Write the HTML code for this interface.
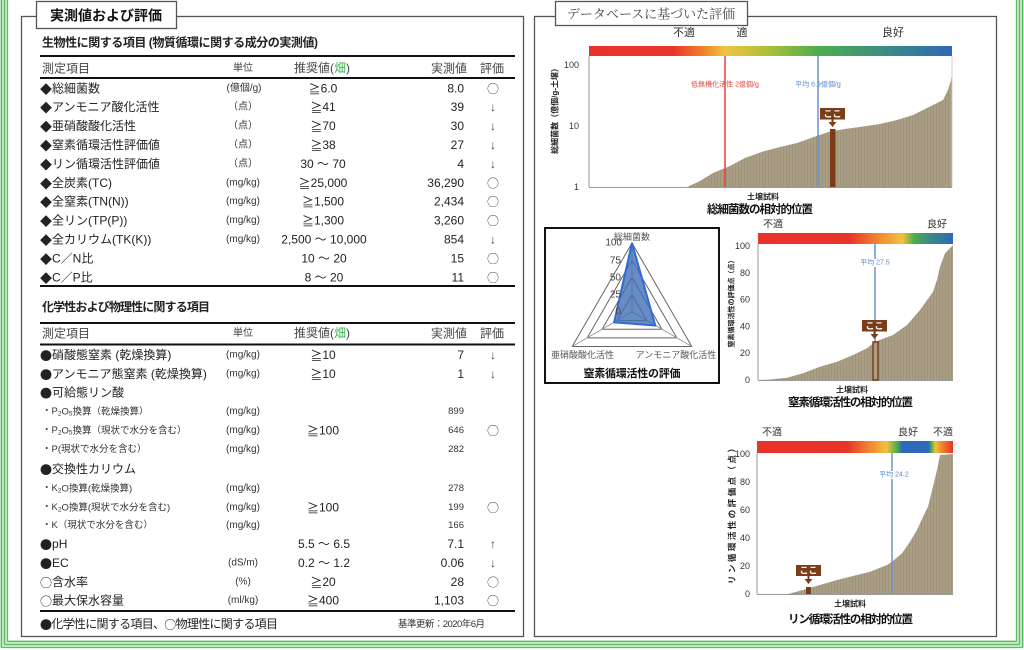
<!DOCTYPE html>
<html><head><meta charset="utf-8">
<style>
html,body{margin:0;padding:0;background:#fff;}
svg{display:block;}
text{font-family:"Liberation Sans","Noto Sans CJK JP",sans-serif;}
.j{font-family:"Noto Sans CJK JP",sans-serif;}
</style></head>
<body>
<svg width="1024" height="650" viewBox="0 0 1024 650" xmlns="http://www.w3.org/2000/svg">
<defs>
<linearGradient id="g1" x1="0" x2="1" y1="0" y2="0">
<stop offset="0" stop-color="#e8332a"/><stop offset="0.23" stop-color="#e8352a"/><stop offset="0.31" stop-color="#ef7e2c"/><stop offset="0.375" stop-color="#f1c342"/><stop offset="0.5" stop-color="#a7bf3a"/><stop offset="0.63" stop-color="#4cae4c"/><stop offset="0.8" stop-color="#3d8f7e"/><stop offset="1" stop-color="#2e68b6"/>
</linearGradient>
<linearGradient id="g2" x1="0" x2="1" y1="0" y2="0">
<stop offset="0" stop-color="#e8332a"/><stop offset="0.47" stop-color="#e8352a"/><stop offset="0.62" stop-color="#f08a30"/><stop offset="0.74" stop-color="#f2c040"/><stop offset="0.8" stop-color="#4cae4c"/><stop offset="0.88" stop-color="#3a8a86"/><stop offset="1" stop-color="#2e68b6"/>
</linearGradient>
<linearGradient id="g3" x1="0" x2="1" y1="0" y2="0">
<stop offset="0" stop-color="#e8332a"/><stop offset="0.46" stop-color="#e8352a"/><stop offset="0.58" stop-color="#f08a30"/><stop offset="0.66" stop-color="#f2c040"/><stop offset="0.715" stop-color="#4cae4c"/><stop offset="0.74" stop-color="#2e68b6"/><stop offset="0.875" stop-color="#2e68b6"/><stop offset="0.89" stop-color="#4cae4c"/><stop offset="0.91" stop-color="#f2c040"/><stop offset="0.94" stop-color="#f08a30"/><stop offset="1" stop-color="#e8332a"/>
</linearGradient>
<pattern id="bars" width="3" height="10" patternUnits="userSpaceOnUse">
<rect width="3" height="10" fill="#aa9e85"/><rect width="1" height="10" fill="#9f927a"/>
</pattern>
</defs>

<!-- green border -->
<rect x="0" y="0" width="8" height="648" fill="#cfeccf"/>
<rect x="1016" y="0" width="8" height="648" fill="#cfeccf"/>
<rect x="0" y="640" width="1024" height="8" fill="#cfeccf"/>
<g stroke="#5dbb63" stroke-width="1.3" fill="none">
<line x1="1.5" y1="0" x2="1.5" y2="647.5"/><line x1="4.5" y1="0" x2="4.5" y2="644.5"/><line x1="7.5" y1="0" x2="7.5" y2="641.5"/>
<line x1="1016.5" y1="0" x2="1016.5" y2="641.5"/><line x1="1019.5" y1="0" x2="1019.5" y2="644.5"/><line x1="1022.5" y1="0" x2="1022.5" y2="647.5"/>
<line x1="7.5" y1="641.5" x2="1016.5" y2="641.5"/><line x1="4.5" y1="644.5" x2="1019.5" y2="644.5"/><line x1="1.5" y1="647.5" x2="1022.5" y2="647.5"/>
</g>

<!-- left panel -->
<rect x="21.5" y="16.5" width="502" height="620" fill="#fff" stroke="#555" stroke-width="1.3"/>
<rect x="36.5" y="1.5" width="140" height="27" fill="#fff" stroke="#555" stroke-width="1.3"/>
<text x="106" y="15.5" font-size="14" font-weight="bold" text-anchor="middle" dominant-baseline="central" fill="#111">実測値および評価</text>

<g dominant-baseline="central" fill="#222">
<text x="42" y="42.5" font-size="12" font-weight="bold" textLength="276">生物性に関する項目 (物質循環に関する成分の実測値)</text>
<line x1="40" y1="56" x2="515" y2="56" stroke="#111" stroke-width="2"/>
<text x="42" y="68.5" font-size="12" fill="#444">測定項目</text>
<text x="243" y="68.5" font-size="10" text-anchor="middle" fill="#444">単位</text>
<text x="322" y="68" font-size="12" text-anchor="middle" fill="#444">推奨値(<tspan fill="#3cb44b">畑</tspan>)</text>
<text x="449" y="68.5" font-size="12" text-anchor="middle" fill="#444">実測値</text>
<text x="492" y="68.5" font-size="12" text-anchor="middle" fill="#444">評価</text>
<line x1="40" y1="78" x2="515" y2="78" stroke="#111" stroke-width="2"/>

<g font-size="12">
<text x="40" y="88.3"><tspan class="j">◆</tspan>総細菌数</text>
<text x="40" y="107.2"><tspan class="j">◆</tspan>アンモニア酸化活性</text>
<text x="40" y="126.1"><tspan class="j">◆</tspan>亜硝酸酸化活性</text>
<text x="40" y="145"><tspan class="j">◆</tspan>窒素循環活性評価値</text>
<text x="40" y="163.9"><tspan class="j">◆</tspan>リン循環活性評価値</text>
<text x="40" y="182.8"><tspan class="j">◆</tspan>全炭素(TC)</text>
<text x="40" y="201.7"><tspan class="j">◆</tspan>全窒素(TN(N))</text>
<text x="40" y="220.6"><tspan class="j">◆</tspan>全リン(TP(P))</text>
<text x="40" y="239.5"><tspan class="j">◆</tspan>全カリウム(TK(K))</text>
<text x="40" y="258.4"><tspan class="j">◆</tspan>C／N比</text>
<text x="40" y="277.3"><tspan class="j">◆</tspan>C／P比</text>
</g>
<g font-size="10" text-anchor="middle" fill="#333">
<text x="244" y="88.3">(億個/g)</text>
<text x="243" y="107.2">（点）</text>
<text x="243" y="126.1">（点）</text>
<text x="243" y="145">（点）</text>
<text x="243" y="163.9">（点）</text>
<text x="243" y="182.8">(mg/kg)</text>
<text x="243" y="201.7">(mg/kg)</text>
<text x="243" y="220.6">(mg/kg)</text>
<text x="243" y="239.5">(mg/kg)</text>
</g>
<g font-size="12" text-anchor="middle">
<text x="323" y="88.3"><tspan class="j">≧</tspan>6.0</text>
<text x="323" y="107.2"><tspan class="j">≧</tspan>41</text>
<text x="323" y="126.1"><tspan class="j">≧</tspan>70</text>
<text x="323" y="145"><tspan class="j">≧</tspan>38</text>
<text x="323" y="163.9">30 ～ 70</text>
<text x="323" y="182.8"><tspan class="j">≧</tspan>25,000</text>
<text x="323" y="201.7"><tspan class="j">≧</tspan>1,500</text>
<text x="323" y="220.6"><tspan class="j">≧</tspan>1,300</text>
<text x="324" y="239.5">2,500 ～ 10,000</text>
<text x="324" y="258.4">10 ～ 20</text>
<text x="324" y="277.3">8 ～ 20</text>
</g>
<g font-size="12" text-anchor="end">
<text x="464" y="88.3">8.0</text>
<text x="464" y="107.2">39</text>
<text x="464" y="126.1">30</text>
<text x="464" y="145">27</text>
<text x="464" y="163.9">4</text>
<text x="464" y="182.8">36,290</text>
<text x="464" y="201.7">2,434</text>
<text x="464" y="220.6">3,260</text>
<text x="464" y="239.5">854</text>
<text x="464" y="258.4">15</text>
<text x="464" y="277.3">11</text>
</g>
<g font-size="12" text-anchor="middle" fill="#444" class="j">
<text class="j" x="493" y="88.3">○</text>
<text x="493" y="107.2">↓</text>
<text x="493" y="126.1">↓</text>
<text x="493" y="145">↓</text>
<text x="493" y="163.9">↓</text>
<text class="j" x="493" y="182.8">○</text>
<text class="j" x="493" y="201.7">○</text>
<text class="j" x="493" y="220.6">○</text>
<text x="493" y="239.5">↓</text>
<text class="j" x="493" y="258.4">○</text>
<text class="j" x="493" y="277.3">○</text>
</g>
<line x1="40" y1="286" x2="515" y2="286" stroke="#111" stroke-width="2"/>

<text x="42" y="307" font-size="12" font-weight="bold" textLength="168">化学性および物理性に関する項目</text>
<line x1="40" y1="323" x2="515" y2="323" stroke="#111" stroke-width="2"/>
<text x="42" y="333.5" font-size="12" fill="#444">測定項目</text>
<text x="243" y="333.5" font-size="10" text-anchor="middle" fill="#444">単位</text>
<text x="322" y="333" font-size="12" text-anchor="middle" fill="#444">推奨値(<tspan fill="#3cb44b">畑</tspan>)</text>
<text x="449" y="333.5" font-size="12" text-anchor="middle" fill="#444">実測値</text>
<text x="492" y="333.5" font-size="12" text-anchor="middle" fill="#444">評価</text>
<line x1="40" y1="344.5" x2="515" y2="344.5" stroke="#111" stroke-width="2"/>

<g font-size="12">
<text x="40" y="355"><tspan class="j">●</tspan>硝酸態窒素 (乾燥換算)</text>
<text x="40" y="373.8"><tspan class="j">●</tspan>アンモニア態窒素 (乾燥換算)</text>
<text x="40" y="392.6"><tspan class="j">●</tspan>可給態リン酸</text>
<text x="40" y="468.8"><tspan class="j">●</tspan>交換性カリウム</text>
<text x="40" y="544"><tspan class="j">●</tspan>pH</text>
<text x="40" y="562.8"><tspan class="j">●</tspan>EC</text>
<text x="40" y="582"><tspan class="j">○</tspan>含水率</text>
<text x="40" y="600.7"><tspan class="j">○</tspan>最大保水容量</text>
</g>
<g font-size="9.5" fill="#333">
<text x="42" y="411.3">・P<tspan font-size="6.5" dy="2">2</tspan><tspan dy="-2">O</tspan><tspan font-size="6.5" dy="2">5</tspan><tspan dy="-2">換算（乾燥換算）</tspan></text>
<text x="42" y="430.5">・P<tspan font-size="6.5" dy="2">2</tspan><tspan dy="-2">O</tspan><tspan font-size="6.5" dy="2">5</tspan><tspan dy="-2">換算（現状で水分を含む）</tspan></text>
<text x="42" y="449.3">・P(現状で水分を含む）</text>
<text x="42" y="488.3">・K<tspan font-size="6.5" dy="2">2</tspan><tspan dy="-2">O換算(乾燥換算)</tspan></text>
<text x="42" y="507.3">・K<tspan font-size="6.5" dy="2">2</tspan><tspan dy="-2">O換算(現状で水分を含む)</tspan></text>
<text x="42" y="525.3">・K（現状で水分を含む）</text>
</g>
<g font-size="10" text-anchor="middle" fill="#333">
<text x="243" y="355">(mg/kg)</text>
<text x="243" y="373.8">(mg/kg)</text>
<text x="243" y="411.3">(mg/kg)</text>
<text x="243" y="430.5">(mg/kg)</text>
<text x="243" y="449.3">(mg/kg)</text>
<text x="243" y="488.3">(mg/kg)</text>
<text x="243" y="507.3">(mg/kg)</text>
<text x="243" y="525.3">(mg/kg)</text>
<text x="243" y="562.8">(dS/m)</text>
<text x="243" y="582">(%)</text>
<text x="243" y="600.7">(ml/kg)</text>
</g>
<g font-size="12" text-anchor="middle">
<text x="323" y="355"><tspan class="j">≧</tspan>10</text>
<text x="323" y="373.8"><tspan class="j">≧</tspan>10</text>
<text x="323" y="430.5"><tspan class="j">≧</tspan>100</text>
<text x="323" y="507.3"><tspan class="j">≧</tspan>100</text>
<text x="324" y="544">5.5 ～ 6.5</text>
<text x="324" y="562.8">0.2 ～ 1.2</text>
<text x="323" y="582"><tspan class="j">≧</tspan>20</text>
<text x="323" y="600.7"><tspan class="j">≧</tspan>400</text>
</g>
<g font-size="12" text-anchor="end">
<text x="464" y="355">7</text>
<text x="464" y="373.8">1</text>
<text x="464" y="544">7.1</text>
<text x="464" y="562.8">0.06</text>
<text x="464" y="582">28</text>
<text x="464" y="600.7">1,103</text>
</g>
<g font-size="9.5" text-anchor="end" fill="#333">
<text x="464" y="411.3">899</text>
<text x="464" y="430.5">646</text>
<text x="464" y="449.3">282</text>
<text x="464" y="488.3">278</text>
<text x="464" y="507.3">199</text>
<text x="464" y="525.3">166</text>
</g>
<g font-size="12" text-anchor="middle" fill="#444">
<text x="493" y="355">↓</text>
<text x="493" y="373.8">↓</text>
<text class="j" x="493" y="430.5">○</text>
<text class="j" x="493" y="507.3">○</text>
<text x="493" y="544">↑</text>
<text x="493" y="562.8">↓</text>
<text class="j" x="493" y="582">○</text>
<text class="j" x="493" y="600.7">○</text>
</g>
<line x1="40" y1="611" x2="515" y2="611" stroke="#111" stroke-width="2"/>
<text x="40" y="624" font-size="12" textLength="238"><tspan class="j">●</tspan>化学性に関する項目、<tspan class="j">○</tspan>物理性に関する項目</text>
<text x="398" y="624.5" font-size="9.5" fill="#333" textLength="87">基準更新：2020年6月</text>
</g>

<!-- right panel -->
<rect x="534.5" y="16.5" width="462" height="620" fill="#fff" stroke="#555" stroke-width="1.3"/>
<rect x="555.5" y="1.5" width="192" height="24" fill="#fff" stroke="#555" stroke-width="1.3"/>
<text x="651" y="14" font-size="13" text-anchor="middle" dominant-baseline="central" fill="#444" style="font-family:'Liberation Serif','Noto Serif CJK SC',serif">データベースに基づいた評価</text>

<!-- chart 1 -->
<g dominant-baseline="central">
<text x="684" y="33" font-size="11" text-anchor="middle" fill="#333">不適</text>
<text x="742" y="33" font-size="11" text-anchor="middle" fill="#333">適</text>
<text x="893" y="33" font-size="11" text-anchor="middle" fill="#333">良好</text>
<rect x="589" y="46" width="363" height="10" fill="url(#g1)"/>
<path d="M687,187 L700,181 L713,173 L730,166 L745,158 L763,151.5 L780,147 L797,143 L818,135.5 L830,131.5 L845,129 L863,126.5 L880,124 L897,120 L913,115 L930,106.5 L943,100 L948,90 L951,80 L952,73 L952,187 Z" fill="url(#bars)"/>
<line x1="589" y1="56" x2="589" y2="187" stroke="#999"/>
<line x1="589" y1="187.5" x2="952" y2="187.5" stroke="#999"/>
<line x1="952" y1="56" x2="952" y2="187" stroke="#ccc"/>
<line x1="725" y1="56" x2="725" y2="187" stroke="#e8443a" stroke-width="1.5"/>
<line x1="818" y1="56" x2="818" y2="187" stroke="#6a93cf" stroke-width="1.5"/>
<text x="725" y="85" font-size="7" text-anchor="middle" fill="#e8443a">低無機化活性 2億個/g</text>
<text x="818" y="85" font-size="7" text-anchor="middle" fill="#5b8bd0">平均 6.9億個/g</text>
<rect x="830" y="129" width="5.5" height="58" fill="#7a3d17"/>
<rect x="820" y="108" width="25" height="11.5" fill="#7a3d17"/>
<text x="832.5" y="114" font-size="9" font-weight="bold" text-anchor="middle" fill="#fff">ここ</text>
<line x1="832.5" y1="119" x2="832.5" y2="123" stroke="#7a3d17" stroke-width="2"/>
<path d="M828.5,122 L836.5,122 L832.5,127 Z" fill="#7a3d17"/>
<g font-size="9" text-anchor="end" fill="#333">
<text x="579" y="65">100</text><text x="579" y="126">10</text><text x="579" y="187">1</text>
</g>
<text transform="translate(555,109) rotate(-90)" font-size="8" font-weight="bold" text-anchor="middle" fill="#222">総細菌数（億個/g-土壌）</text>
<text x="763" y="197" font-size="8" font-weight="bold" text-anchor="middle" fill="#222">土壌試料</text>
<text x="760" y="210" font-size="11.5" font-weight="bold" text-anchor="middle" fill="#111" textLength="106">総細菌数の相対的位置</text>
</g>

<!-- radar -->
<rect x="545" y="228" width="174" height="155" fill="#fff" stroke="#111" stroke-width="2"/>
<g fill="none" stroke="#666" stroke-width="1">
<polygon points="632,243 572.2,346.5 691.8,346.5"/>
<polygon points="632,260.25 587.2,337.9 676.8,337.9"/>
<polygon points="632,277.5 602.1,329.25 661.9,329.25"/>
<polygon points="632,294.75 617.1,320.6 646.9,320.6"/>
<line x1="632" y1="312" x2="632" y2="243" stroke="#999"/>
<line x1="632" y1="312" x2="572.2" y2="346.5" stroke="#999"/>
<line x1="632" y1="312" x2="691.8" y2="346.5" stroke="#999"/>
</g>
<polygon points="632,243 614.1,322.4 655.3,325.5" fill="#3f6cb5" fill-opacity="0.78" stroke="#2f6bd0" stroke-width="2"/>
<g dominant-baseline="central">
<g font-size="10" text-anchor="end" fill="#444">
<text x="622" y="243">100</text><text x="621" y="261">75</text><text x="621" y="278">50</text><text x="621" y="295">25</text><text x="621" y="312">0</text>
</g>
<text x="632" y="237" font-size="9" text-anchor="middle" fill="#555">総細菌数</text>
<text x="582.5" y="355" font-size="9" text-anchor="middle" fill="#555">亜硝酸酸化活性</text>
<text x="676" y="355" font-size="9" text-anchor="middle" fill="#555">アンモニア酸化活性</text>
<text x="632" y="374" font-size="11" font-weight="bold" text-anchor="middle" fill="#111" textLength="97">窒素循環活性の評価</text>
</g>

<!-- chart 2 -->
<g dominant-baseline="central">
<text x="773" y="225" font-size="10" text-anchor="middle" fill="#333">不適</text>
<text x="937" y="225" font-size="10" text-anchor="middle" fill="#333">良好</text>
<rect x="758" y="233" width="195" height="11" fill="url(#g2)"/>
<path d="M758,380 L770,379.5 L787,377.7 L803,373.3 L820,366.7 L837,361.7 L853,355 L867,348.3 L875,341.7 L893,335 L907,325 L920,310 L933,291.7 L937,280 L940,266.7 L945,253.3 L950,248.3 L953,245 L953,380 Z" fill="url(#bars)"/>
<line x1="758" y1="244" x2="758" y2="380" stroke="#999"/>
<line x1="758" y1="380.5" x2="953" y2="380.5" stroke="#999"/>
<line x1="875" y1="244" x2="875" y2="380" stroke="#6a93cf" stroke-width="1.5"/>
<rect x="862" y="259" width="26" height="8" fill="#fff"/>
<text x="875" y="263" font-size="7" text-anchor="middle" fill="#5b8bd0">平均 27.5</text>
<rect x="873" y="342" width="5" height="38" fill="#aa9e85" stroke="#7a3d17" stroke-width="1.5"/>
<rect x="862" y="320" width="25" height="11.5" fill="#7a3d17"/>
<text x="874.5" y="326" font-size="9" font-weight="bold" text-anchor="middle" fill="#fff">ここ</text>
<line x1="874.5" y1="331" x2="874.5" y2="335" stroke="#7a3d17" stroke-width="2"/>
<path d="M870.5,334 L878.5,334 L874.5,339 Z" fill="#7a3d17"/>
<g font-size="9" text-anchor="end" fill="#333">
<text x="750" y="246">100</text><text x="750" y="272.8">80</text><text x="750" y="299.6">60</text><text x="750" y="326.4">40</text><text x="750" y="353.2">20</text><text x="750" y="380">0</text>
</g>
<text transform="translate(732,302) rotate(-90)" font-size="7" font-weight="bold" text-anchor="middle" fill="#222">窒素循環活性の評価点（点）</text>
<text x="852" y="390" font-size="8" font-weight="bold" text-anchor="middle" fill="#222">土壌試料</text>
<text x="850.5" y="403" font-size="11.5" font-weight="bold" text-anchor="middle" fill="#111" textLength="125">窒素循環活性の相対的位置</text>
</g>

<!-- chart 3 -->
<g dominant-baseline="central">
<text x="772" y="433" font-size="10" text-anchor="middle" fill="#333">不適</text>
<text x="908" y="433" font-size="10" text-anchor="middle" fill="#333">良好</text>
<text x="943" y="433" font-size="10" text-anchor="middle" fill="#333">不適</text>
<rect x="757" y="441" width="196" height="12" fill="url(#g3)"/>
<path d="M788,594 L803,590 L820,585 L837,580 L853,576 L870,571.7 L887,565 L892,561.7 L902,553.3 L910,541.7 L917,530 L923,516.7 L928,506.7 L933,486.7 L937,470 L940,455 L953,454 L953,594 Z" fill="url(#bars)"/>
<line x1="757" y1="453" x2="757" y2="594" stroke="#999"/>
<line x1="757" y1="594.5" x2="953" y2="594.5" stroke="#999"/>
<line x1="892" y1="453" x2="892" y2="594" stroke="#6a93cf" stroke-width="1.5"/>
<rect x="881" y="471" width="26" height="8" fill="#fff"/>
<text x="894" y="475" font-size="7" text-anchor="middle" fill="#5b8bd0">平均 24.2</text>
<rect x="806" y="587" width="5" height="7" fill="#7a3d17"/>
<rect x="796" y="565" width="25" height="11" fill="#7a3d17"/>
<text x="808.5" y="570.5" font-size="9" font-weight="bold" text-anchor="middle" fill="#fff">ここ</text>
<line x1="808.5" y1="576" x2="808.5" y2="580" stroke="#7a3d17" stroke-width="2"/>
<path d="M804.5,579 L812.5,579 L808.5,584 Z" fill="#7a3d17"/>
<g font-size="9" text-anchor="end" fill="#333">
<text x="750" y="454">100</text><text x="750" y="482">80</text><text x="750" y="510">60</text><text x="750" y="538">40</text><text x="750" y="566">20</text><text x="750" y="594">0</text>
</g>
<text transform="translate(732,514) rotate(-90)" font-size="8.5" font-weight="bold" text-anchor="middle" fill="#222" textLength="140">リン循環活性の評価点（点）</text>
<text x="850" y="604" font-size="8" font-weight="bold" text-anchor="middle" fill="#222">土壌試料</text>
<text x="850.5" y="620" font-size="11.5" font-weight="bold" text-anchor="middle" fill="#111" textLength="125">リン循環活性の相対的位置</text>
</g>
</svg>
</body></html>
